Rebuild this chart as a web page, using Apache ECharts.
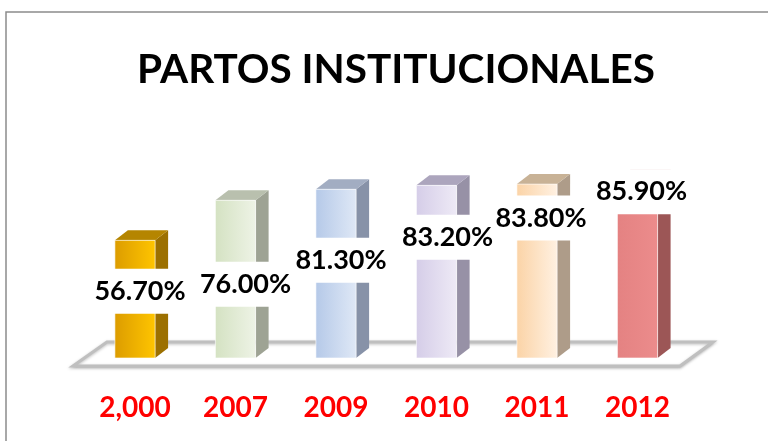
<!DOCTYPE html>
<html>
<head>
<meta charset="utf-8">
<script src="https://cdn.jsdelivr.net/npm/echarts@6/dist/echarts.min.js"></script>
<style>
  html, body { margin: 0; padding: 0; background: #fff; }
  #main { width: 768px; height: 441px; }
</style>
</head>
<body>
<div id="main"></div>
<script>
// datos
const years = ["2,000", "2007", "2009", "2010", "2011", "2012"];
const partos = [56.7, 76.0, 81.3, 83.2, 83.8, 85.9];
const pctLabels = ["56.70%", "76.00%", "81.30%", "83.20%", "83.80%", "85.90%"];

// colores de cada barra: [frente claro, frente oscuro, lado, tapa]
const barColors = [
  ["#ffc500", "#dc9c00", "#9c7000", "#b58500"],
  ["#eef3e6", "#d4e2c2", "#9ea394", "#b9c0ae"],
  ["#dfe8f6", "#b5c9e8", "#8792a8", "#a2adc2"],
  ["#eeeaf6", "#d5cde8", "#9791a6", "#aca5bd"],
  ["#fff1e2", "#fbd3a6", "#ae9c89", "#c8b296"],
  ["#ec8c8c", "#e48282", "#9c5656", "#b86a6a"]
];
// posicion manual de las etiquetas (px respecto a la tapa de la barra)
const labelDrop = [51, 84, 71, 52, 34, 12];
const labelShiftX = [5, 10, 5, 11, 4, 4];

const myChart = echarts.init(document.getElementById("main"));

const depthX = 13;
const depthY = -10;

function renderBar(params, api) {
  const i = params.dataIndex;
  const top = api.coord([api.value(0), api.value(1)]);
  const base = api.coord([api.value(0), 0]);
  const w = api.size([1, 0])[0] * 0.4;
  const x0 = top[0] - w / 2;
  const x1 = top[0] + w / 2;
  const yTop = top[1];
  const yBase = base[1];
  const c = barColors[i];
  return {
    type: "group",
    children: [
      {
        type: "polygon",
        shape: { points: [[x1, yTop], [x1 + depthX, yTop + depthY], [x1 + depthX, yBase + depthY], [x1, yBase]] },
        style: { fill: c[2] }
      },
      {
        type: "polygon",
        shape: { points: [[x0, yTop], [x0 + depthX, yTop + depthY], [x1 + depthX, yTop + depthY], [x1, yTop]] },
        style: { fill: c[3] }
      },
      {
        type: "rect",
        shape: { x: x0, y: yTop, width: w, height: yBase - yTop },
        style: {
          fill: new echarts.graphic.LinearGradient(0, 0, 1, 0, [
            { offset: 0, color: c[1] },
            { offset: 1, color: c[0] }
          ]),
          stroke: "rgba(255,255,255,0.6)",
          lineWidth: 1
        }
      },
      {
        type: "text",
        z2: 100,
        style: {
          text: pctLabels[i],
          x: top[0] + labelShiftX[i],
          y: yTop + labelDrop[i],
          align: "center",
          verticalAlign: "middle",
          font: "bold 27px Lato",
          fill: "#000",
          backgroundColor: "#fff",
          padding: [9, 2, 9, 2]
        }
      }
    ]
  };
}

myChart.setOption({
  animation: false,
  title: {
    text: "PARTOS INSTITUCIONALES",
    left: 391,
    textAlign: "center",
    top: 44,
    textStyle: {
      fontFamily: "Lato",
      fontWeight: "bold",
      fontSize: 40.5,
      color: "#000"
    }
  },
  graphic: [
    {
      type: "rect",
      z: -10,
      shape: { x: 6, y: 12, width: 780, height: 450 },
      style: { fill: "#fff", stroke: "#8c8c8c", lineWidth: 1.5 }
    },
    {
      type: "polygon",
      z: -5,
      shape: { points: [[73, 366], [107, 342], [713, 342], [680, 366]] },
      style: {
        fill: "#fff",
        stroke: "#bfbfbf",
        lineWidth: 3,
        shadowColor: "rgba(0,0,0,0.25)",
        shadowBlur: 3,
        shadowOffsetY: 1
      }
    }
  ],
  grid: {
    left: 84.75,
    right: 80.25,
    top: 150.5,
    bottom: 83
  },
  xAxis: {
    type: "category",
    data: years,
    axisLine: { show: false },
    axisTick: { show: false },
    axisLabel: {
      margin: 36,
      color: "#ff0000",
      fontFamily: "Lato",
      fontWeight: "bold",
      fontSize: 28
    }
  },
  yAxis: {
    type: "value",
    min: 0,
    max: 100,
    show: false,
    splitLine: { show: false }
  },
  series: [
    {
      type: "custom",
      renderItem: renderBar,
      data: years.map((y, i) => [i, partos[i]])
    }
  ]
});
</script>
</body>
</html>
